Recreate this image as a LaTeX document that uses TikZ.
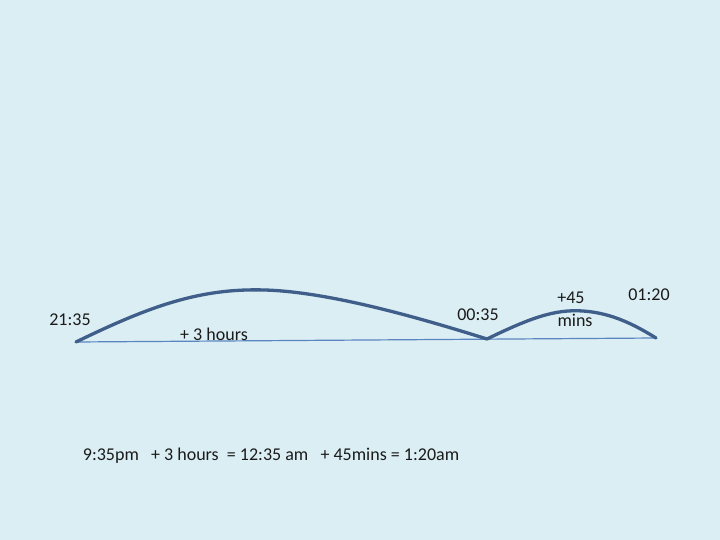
\documentclass[tikz,border=0pt]{standalone}
\usepackage{fontspec}
\setmainfont{Carlito}
\definecolor{bg}{HTML}{DBEEF4}
\definecolor{arc}{HTML}{3F5F8A}
\definecolor{base}{HTML}{5B85C0}
\definecolor{txt}{HTML}{1A1A1A}
\begin{document}
\begin{tikzpicture}[x=1pt,y=-1pt,
  lbl/.style={font=\fontsize{18}{20}\selectfont,text=txt,inner sep=0pt},
  arcline/.style={draw=arc,line width=3.3pt,line cap=round},
  baseline/.style={draw=base,line width=1.2pt}]
\fill[bg] (0,0) rectangle (720,540);
\useasboundingbox (0,0) rectangle (720,540);
\coordinate (A) at (76,342);
\coordinate (B) at (487,339);
\coordinate (C) at (656,338);
\coordinate (P1) at (265,290);
\coordinate (P2) at (583,311);
\draw[baseline] (A) -- (C);
\draw[arcline] (A) .. controls (150,306) and (200,288) .. (P1)
  .. controls (330,292) and (420,318) .. (B);
\draw[arcline] (B) .. controls (530,318) and (555,309) .. (P2)
  .. controls (612,313) and (635,325) .. (C);
\node[lbl] (t1) at (70,320) {21:35};
\node[lbl] (t2) at (214,334) {+ 3 hours};
\node[lbl] (t3) at (478,315) {00:35};
\node[lbl] (t4) at (571,298) {+45};
\node[lbl] (t5) at (575,320) {mins};
\node[lbl] (t6) at (649,295) {01:20};
\node[lbl] (t7) at (271,456) {9:35pm\ \ \ + 3 hours\ \ = 12:35 am\ \ \ + 45mins = 1:20am};
\end{tikzpicture}
\end{document}
